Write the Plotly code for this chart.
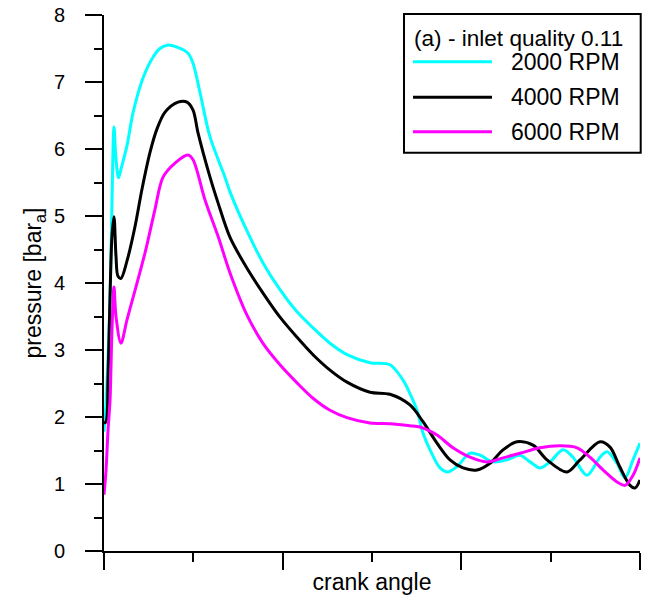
import plotly.graph_objects as go

# ---- data (crank angle in degrees, pressure in bar_a) ----
series_names = ["2000 RPM", "4000 RPM", "6000 RPM"]
series_colors = ["#00FFFF", "#000000", "#FF00FF"]
legend_title = "(a) - inlet quality 0.11"

angle_2000 = [0, 2.7, 5.4, 8.1, 10.7, 13.4, 16.1, 19.5, 22.8, 30.9, 39.0, 52.4, 65.8, 75.2,
              84.6, 98.1, 112.8, 119.6, 129.0, 142.4, 162.5, 169.3, 189.4, 213.6, 236.4, 259.3,
              280.8, 303.6, 326.4, 357.3, 384.2, 401.7, 411.0, 420.5, 428.5, 437.9, 451.4,
              462.1, 474.2, 491.6, 505.1, 522.6, 541.4, 558.8, 572.3, 585.7, 599.1, 616.6,
              630.0, 648.8, 666.3, 675.7, 689.1, 699.9, 710.6, 720]
pressure_2000 = [1.78, 2.2, 2.9, 3.75, 5.2, 6.33, 5.85, 5.57, 5.7, 6.05, 6.54, 7.06, 7.37, 7.50,
                 7.55, 7.52, 7.43, 7.28, 6.84, 6.18, 5.58, 5.36, 4.84, 4.30, 3.90, 3.57,
                 3.33, 3.10, 2.93, 2.81, 2.78, 2.55, 2.35, 2.10, 1.76, 1.51, 1.24,
                 1.18, 1.26, 1.46, 1.43, 1.33, 1.36, 1.43, 1.33, 1.24, 1.33, 1.51,
                 1.40, 1.13, 1.40, 1.48, 1.31, 1.09, 1.36, 1.61]

angle_4000 = [0, 2.7, 5.4, 8.1, 10.7, 13.4, 16.1, 18.8, 22.8, 30.9, 41.6, 51.0, 61.8, 71.2,
              82.0, 99.4, 111.5, 119.6, 126.3, 142.4, 153.1, 169.3, 192.1, 213.6, 236.4,
              259.3, 280.8, 303.6, 326.4, 357.3, 384.2, 411.0, 428.5, 447.3, 464.8, 482.3,
              501.1, 518.5, 536.0, 554.8, 576.3, 595.1, 622.0, 639.4, 666.3, 679.7, 693.1,
              706.6, 713.3, 720]
pressure_4000 = [1.91, 1.93, 2.6, 3.8, 4.7, 4.99, 4.4, 4.1, 4.07, 4.33, 4.84, 5.4, 5.95, 6.3,
                 6.55, 6.70, 6.70, 6.58, 6.24, 5.58, 5.20, 4.68, 4.22, 3.85, 3.49,
                 3.19, 2.93, 2.70, 2.52, 2.37, 2.34, 2.18, 1.93, 1.61, 1.36, 1.24,
                 1.21, 1.31, 1.51, 1.63, 1.58, 1.36, 1.18, 1.36, 1.63, 1.55, 1.25,
                 0.98, 0.94, 1.06]

angle_6000 = [0, 2.7, 5.4, 8.1, 10.7, 13.4, 16.1, 22.8, 30.9, 55.1, 68.5, 79.3, 95.4, 112.8,
              119.6, 135.7, 153.1, 169.3, 192.1, 213.6, 236.4, 259.3, 280.8, 303.6, 326.4,
              357.3, 384.2, 411.0, 424.5, 447.3, 468.8, 491.6, 514.5, 536.0, 558.8, 585.7,
              612.6, 635.4, 652.8, 670.3, 689.1, 699.9, 710.6, 720]
pressure_6000 = [0.84, 1.2, 1.8, 2.25, 3.3, 3.94, 3.5, 3.1, 3.45, 4.45, 5.1, 5.58, 5.79, 5.91,
                 5.84, 5.24, 4.70, 4.15, 3.52, 3.10, 2.78, 2.51, 2.28, 2.10, 1.99,
                 1.91, 1.90, 1.87, 1.85, 1.73, 1.54, 1.40, 1.33, 1.39, 1.46, 1.54,
                 1.57, 1.54, 1.40, 1.21, 1.03, 0.98, 1.13, 1.39]

angles = [angle_2000, angle_4000, angle_6000]
pressures = [pressure_2000, pressure_4000, pressure_6000]

FONT = "Liberation Sans, Arial, sans-serif"

fig = go.Figure()
for name, color, xs, ys in zip(series_names, series_colors, angles, pressures):
    fig.add_trace(go.Scatter(
        x=xs, y=ys, name=name, mode="lines",
        line=dict(color=color, width=3, shape="spline", smoothing=0.9),
        showlegend=False,
    ))

# ---- custom legend (long line samples as in the reference) ----
fig.add_shape(type="rect", xref="paper", yref="paper",
              x0=0.5597, x1=1.0013, y0=0.7431, y1=1.0019,
              line=dict(color="black", width=2), fillcolor="white", layer="above")
fig.add_annotation(xref="paper", yref="paper", x=0.5745, y=0.957,
                   xanchor="left", yanchor="middle", showarrow=False,
                   text=legend_title, font=dict(family=FONT, size=22.6, color="black"))
legend_rows = [0.9129, 0.8464, 0.7823]
for name, color, yy in zip(series_names, series_colors, legend_rows):
    fig.add_shape(type="line", xref="paper", yref="paper",
                  x0=0.5765, x1=0.7239, y0=yy, y1=yy,
                  line=dict(color=color, width=3), layer="above")
    fig.add_annotation(xref="paper", yref="paper", x=0.7555, y=yy,
                       xanchor="left", yanchor="middle", showarrow=False,
                       text=name, font=dict(family=FONT, size=23, color="black"))

fig.update_layout(
    width=645, height=595,
    margin=dict(l=104, r=5, t=15, b=44, autoexpand=False),
    paper_bgcolor="white", plot_bgcolor="white",
    font=dict(family=FONT, size=20, color="black"),
    showlegend=False,
)
fig.update_xaxes(
    range=[0, 720], showgrid=False, zeroline=False,
    showline=True, linecolor="black", linewidth=2,
    ticks="outside", tickmode="linear", tick0=0, dtick=240, ticklen=17,
    tickwidth=2, tickcolor="black", showticklabels=False,
    minor=dict(ticks="outside", dtick=120, tick0=0, ticklen=9, tickwidth=2, tickcolor="black"),
    title=dict(text="crank angle", font=dict(family=FONT, size=23), standoff=14),
)
fig.update_yaxes(
    range=[0, 8], showgrid=False, zeroline=False,
    showline=True, linecolor="black", linewidth=2,
    ticks="outside", tickmode="linear", tick0=0, dtick=1, ticklen=17,
    tickwidth=2, tickcolor="black", ticklabelstandoff=16,
    tickfont=dict(family=FONT, size=20),
    minor=dict(ticks="outside", dtick=0.5, tick0=0, ticklen=8, tickwidth=2, tickcolor="black"),
    title=dict(text="pressure [bar<sub>a</sub>]", font=dict(family=FONT, size=23), standoff=6),
)

fig.write_html("out.html", config={"displayModeBar": False},
               post_script="document.body.style.margin='0';")
